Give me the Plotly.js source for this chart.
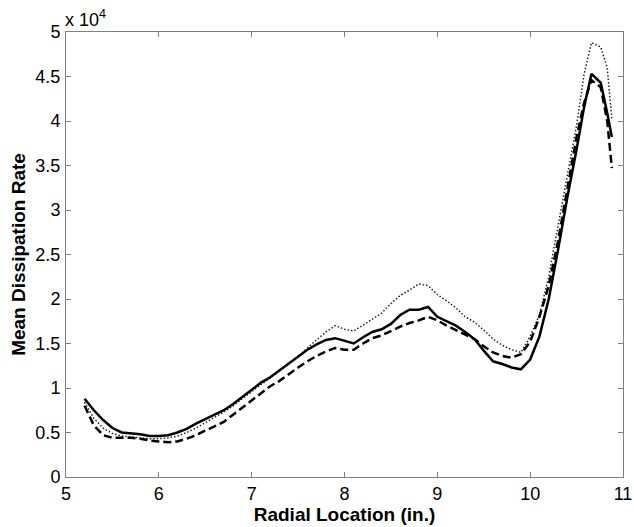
<!DOCTYPE html>
<html>
<head>
<meta charset="utf-8">
<script src="https://cdn.plot.ly/plotly-3.0.1.min.js"></script>
<style>html,body{margin:0;padding:0;background:#fff;}#chart{width:634px;height:527px;}</style>
</head>
<body>
<div id="chart"></div>
<script>
// Radial location (in.)
var radial = [5.2,5.3,5.4,5.5,5.6,5.7,5.8,5.9,6.0,6.1,6.2,6.3,6.4,6.5,6.6,6.7,6.8,6.9,7.0,7.1,7.2,7.3,7.4,7.5,7.6,7.7,7.8,7.9,8.0,8.1,8.2,8.3,8.4,8.5,8.6,8.7,8.8,8.9,9.0,9.1,9.2,9.3,9.4,9.5,9.6,9.7,9.8,9.9,10.0,10.1,10.2,10.3,10.4,10.5,10.58,10.66,10.76,10.83,10.88];
// Mean dissipation rate (units of 1e4)
var solidSeries = [0.88,0.75,0.64,0.55,0.50,0.49,0.48,0.46,0.46,0.47,0.50,0.54,0.60,0.65,0.70,0.75,0.82,0.90,0.99,1.06,1.12,1.20,1.28,1.35,1.43,1.49,1.54,1.56,1.53,1.50,1.57,1.63,1.66,1.72,1.82,1.88,1.88,1.91,1.80,1.75,1.70,1.63,1.55,1.42,1.30,1.27,1.23,1.21,1.32,1.58,2.00,2.55,3.14,3.68,4.15,4.53,4.43,4.09,3.82];
var dashedSeries = [0.80,0.58,0.47,0.44,0.44,0.44,0.43,0.41,0.40,0.39,0.40,0.43,0.47,0.52,0.57,0.62,0.70,0.78,0.86,0.95,1.02,1.08,1.16,1.23,1.30,1.36,1.41,1.45,1.43,1.43,1.50,1.56,1.59,1.64,1.69,1.73,1.76,1.80,1.76,1.70,1.65,1.60,1.55,1.47,1.40,1.36,1.34,1.38,1.52,1.80,2.15,2.65,3.22,3.82,4.20,4.46,4.38,4.00,3.47];
var dottedSeries = [0.84,0.66,0.55,0.49,0.46,0.45,0.44,0.43,0.43,0.44,0.46,0.50,0.55,0.61,0.67,0.73,0.80,0.88,0.97,1.04,1.11,1.20,1.27,1.35,1.45,1.54,1.63,1.70,1.66,1.64,1.71,1.78,1.84,1.95,2.04,2.10,2.17,2.15,2.05,1.98,1.90,1.80,1.74,1.65,1.55,1.48,1.43,1.40,1.58,1.82,2.25,2.82,3.40,3.95,4.52,4.88,4.83,4.60,4.02];
var scale = 1e4;
var yTickVals = [0,0.5,1,1.5,2,2.5,3,3.5,4,4.5,5];
var yTickText = ['0','0.5','1','1.5','2','2.5','3','3.5','4','4.5','5'];
var xTickVals = [5,6,7,8,9,10,11];

function toReal(a){ return a.map(function(v){ return v*scale; }); }

var traces = [
  {x: radial, y: toReal(dottedSeries), mode:'lines', line:{color:'#222', width:1.5, dash:'1.5px,2px'}},
  {x: radial, y: toReal(dashedSeries), mode:'lines', line:{color:'#000', width:2.5, dash:'8px,4px'}},
  {x: radial, y: toReal(solidSeries), mode:'lines', line:{color:'#000', width:2.5}}
];

var axisCommon = {
  showgrid:false, zeroline:false, showline:true, linecolor:'#808080', linewidth:1,
  mirror:'ticks', ticks:'inside', ticklen:5, tickcolor:'#808080', tickwidth:1,
  tickfont:{family:'Arial, Liberation Sans, sans-serif', size:18, color:'#000'}
};

var layout = {
  width:634, height:527,
  margin:{l:66, r:11, t:32, b:50},
  paper_bgcolor:'#fff', plot_bgcolor:'#fff',
  showlegend:false,
  xaxis: Object.assign({}, axisCommon, {
    range:[5,11], tickvals:xTickVals, ticklabelstandoff:0,
    title:{text:'<b>Radial Location (in.)</b>', font:{family:'Arial, Liberation Sans, sans-serif', size:19, color:'#000'}, standoff:0}
  }),
  yaxis: Object.assign({}, axisCommon, {
    range:[0,5*scale], tickvals:toReal(yTickVals), ticktext:yTickText, ticklabelstandoff:1,
    title:{text:'<b>Mean Dissipation Rate</b>', font:{family:'Arial, Liberation Sans, sans-serif', size:19, color:'#000'}, standoff:4}
  }),
  annotations:[{
    xref:'paper', yref:'paper', x:0, y:1, xanchor:'left', yanchor:'bottom', xshift:-3,
    text:'x 10<sup>4</sup>', showarrow:false,
    font:{family:'Arial, Liberation Sans, sans-serif', size:18, color:'#000'}
  }]
};

Plotly.newPlot('chart', traces, layout, {displayModeBar:false, staticPlot:true});
</script>
</body>
</html>
